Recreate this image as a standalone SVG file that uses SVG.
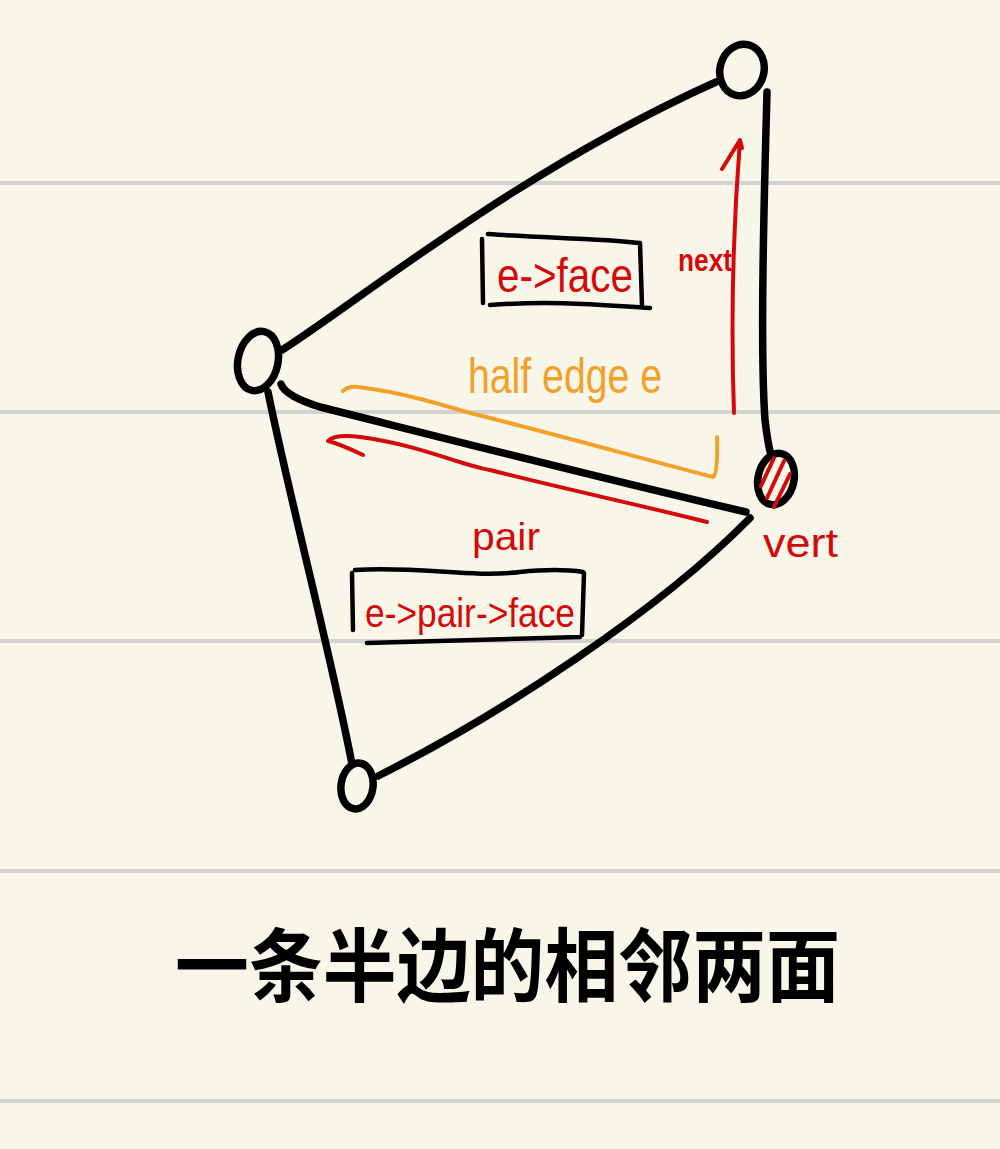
<svg xmlns="http://www.w3.org/2000/svg" width="1000" height="1149" viewBox="0 0 1000 1149">
<style>
.rule{stroke:#d2d2d0;stroke-width:4}
.ink{fill:none;stroke:#000;stroke-width:7.5;stroke-linecap:round;stroke-linejoin:round}
.box{fill:none;stroke:#000;stroke-width:4.5;stroke-linecap:round}
.red{fill:none;stroke:#d40a0a;stroke-width:4;stroke-linecap:round;stroke-linejoin:round}
.org{fill:none;stroke:#f3a028;stroke-width:4;stroke-linecap:round;stroke-linejoin:round}
.t{font-family:"Liberation Sans","DejaVu Sans",sans-serif}
.tr{fill:#d40a0a}
.to{fill:#f3a028}
</style>
<rect width="1000" height="1149" fill="#f8f6e9"/>
<g id="rules">
<line class="rule" x1="0" y1="183" x2="1000" y2="183"/>
<line class="rule" x1="0" y1="412" x2="1000" y2="412"/>
<line class="rule" x1="0" y1="641" x2="1000" y2="641"/>
<line class="rule" x1="0" y1="871" x2="1000" y2="871"/>
<line class="rule" x1="0" y1="1101" x2="1000" y2="1101"/>
</g>
<g id="connectors">
<path class="ink" d="M282 350 C360 300 520 170 716 82"/>
<path class="ink" d="M767 92 C764 200 760 350 765 420 Q768 445 771 455"/>
<path class="ink" d="M281 384 Q285 396 320 407 C420 432 600 478 746 512"/>
<path class="ink" d="M268 392 C290 500 330 650 352 764"/>
<path class="ink" d="M378 776 C500 715 660 610 750 518"/>
</g>
<g id="node-top"><ellipse class="ink" cx="742" cy="70" rx="22" ry="26" transform="rotate(15 742 70)"/></g>
<g id="node-left"><ellipse class="ink" cx="258" cy="361" rx="20" ry="30" transform="rotate(12 258 361)"/></g>
<g id="node-bottom"><ellipse class="ink" cx="357" cy="786" rx="16" ry="23" transform="rotate(8 357 786)"/></g>
<g id="node-vert">
<ellipse class="ink" cx="776" cy="479" rx="18" ry="26" transform="rotate(12 776 479)"/>
<line class="red" x1="774" y1="458" x2="761" y2="486"/>
<line class="red" x1="784" y1="461" x2="767" y2="498"/>
<line class="red" x1="790" y1="474" x2="774" y2="507"/>
<text class="t tr" x="763" y="557" font-size="40" textLength="75" lengthAdjust="spacingAndGlyphs">vert</text>
</g>
<g id="halfedge-label">
<path class="org" d="M343 391 Q348 386 358 387 C400 392 440 404 470 413 C540 430 640 458 713 477 Q718 474 717 437"/>
<text class="to t" x="468" y="393" font-size="50" textLength="194" lengthAdjust="spacingAndGlyphs">half edge e</text>
</g>
<g id="pair-label">
<path class="red" d="M363 455 Q340 444 328 441 Q335 434 360 437 C420 445 460 465 490 470 C560 488 640 505 707 522"/>
<text class="t tr" x="472" y="550" font-size="38" textLength="68" lengthAdjust="spacingAndGlyphs">pair</text>
</g>
<g id="next-label">
<path class="red" d="M734 413 C731 330 733 230 740 140 M740 140 L722 169 M740 140 L742 148"/>
<text class="t tr" x="678" y="271" font-size="32" font-weight="bold" textLength="54" lengthAdjust="spacingAndGlyphs">next</text>
</g>
<g id="face-box">
<path class="box" d="M488 234 C540 238 600 238 640 243 M482 239 L483 303 M490 305 C560 300 610 306 650 308 M640 243 L642 305"/>
<text class="t tr" x="497" y="292" font-size="48" textLength="136" lengthAdjust="spacingAndGlyphs">e-&gt;face</text>
</g>
<g id="pair-face-box">
<path class="box" d="M355 570 C420 566 470 578 520 572 C550 569 570 570 583 572 M352 573 L353 630 M367 643 C450 640 520 639 580 637 M584 573 L582 635"/>
<text class="t tr" x="365" y="627" font-size="40" textLength="210" lengthAdjust="spacingAndGlyphs">e-&gt;pair-&gt;face</text>
</g>
<g id="title">
<text x="175" y="995" font-family="'Noto Sans CJK SC',sans-serif" font-size="80" font-weight="bold" textLength="665" lengthAdjust="spacingAndGlyphs">一条半边的相邻两面</text>
</g>
</svg>
